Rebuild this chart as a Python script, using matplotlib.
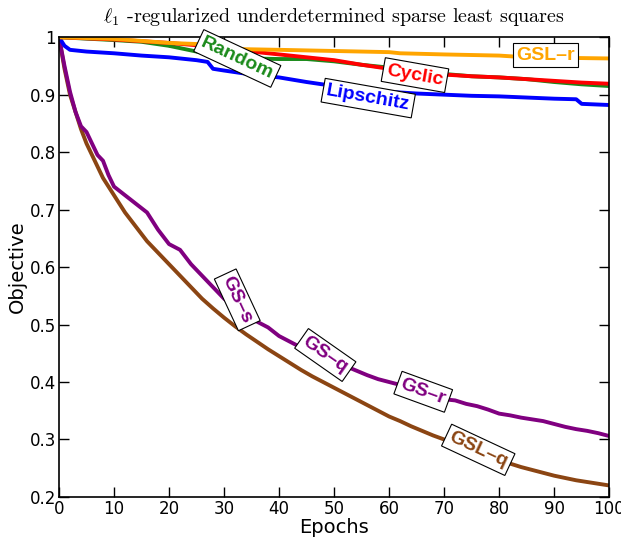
import matplotlib
matplotlib.use("Agg")
import matplotlib.pyplot as plt

plt.rcParams['mathtext.fontset'] = 'cm'

# ---- data ----
x_gsq = [0,1,2,3,4,5,6,7,8,9,10,12,14,16,18,20,22,24,26,28,30,32,34,36,38,40,42,44,46,48,50,
         52,54,56,58,60,62,64,66,68,70,72,74,76,78,80,82,84,86,88,90,92,94,96,98,100]
y_gs = [1.0,0.95,0.905,0.87,0.845,0.835,0.815,0.795,0.785,0.76,0.74,0.725,0.71,0.695,0.665,0.64,
        0.63,0.605,0.585,0.565,0.545,0.53,0.515,0.505,0.495,0.48,0.47,0.46,0.45,0.44,0.435,
        0.428,0.42,0.412,0.405,0.4,0.395,0.39,0.385,0.378,0.37,0.368,0.362,0.358,0.352,0.345,
        0.342,0.338,0.335,0.332,0.327,0.322,0.318,0.315,0.311,0.306]
y_gslq = [1.0,0.945,0.9,0.87,0.84,0.815,0.795,0.775,0.755,0.74,0.725,0.695,0.67,0.645,0.625,0.605,
          0.585,0.565,0.545,0.528,0.512,0.497,0.483,0.47,0.457,0.445,0.433,0.421,0.41,0.4,0.39,
          0.38,0.37,0.36,0.35,0.34,0.332,0.323,0.315,0.307,0.3,0.292,0.285,0.278,0.271,0.264,
          0.258,0.252,0.247,0.242,0.237,0.233,0.229,0.226,0.223,0.22]

x_gslr = [0,10,20,28,29,40,50,60,62,70,80,85,100]
y_gslr = [1.0,0.997,0.99,0.987,0.98,0.978,0.976,0.974,0.972,0.970,0.968,0.965,0.963]

x_cyc = [0,10,20,30,35,40,45,50,55,60,65,70,75,80,85,90,95,100]
y_cyc = [1.0,0.996,0.99,0.982,0.975,0.97,0.965,0.96,0.952,0.945,0.94,0.935,0.932,0.93,0.927,0.924,0.921,0.919]

x_rnd = [0,10,15,20,25,30,35,40,45,50,55,60,65,70,75,80,85,90,95,100]
y_rnd = [1.0,0.995,0.992,0.985,0.975,0.967,0.963,0.962,0.962,0.958,0.952,0.947,0.942,0.936,0.932,0.93,0.927,0.922,0.918,0.915]

x_lip = [0,1,2,5,10,15,20,25,27,28,30,35,40,45,50,55,60,65,70,75,80,85,90,94,95,100]
y_lip = [1.0,0.985,0.978,0.975,0.972,0.968,0.965,0.96,0.957,0.945,0.942,0.935,0.93,0.922,0.915,0.91,
         0.905,0.902,0.9,0.898,0.897,0.895,0.893,0.892,0.884,0.882]

labels = ["Random", "Cyclic", "Lipschitz", "GSL\u2013r", "GS\u2013s", "GS\u2013q", "GS\u2013r", "GSL\u2013q"]
label_x = [32.4, 64.7, 56.2, 88.4, 32.4, 48.4, 66.2, 76.2]
label_y = [0.963, 0.934, 0.894, 0.969, 0.543, 0.447, 0.383, 0.282]
label_rot = [-25, -10, -10, 0, -65, -35, -20, -25]

c_green = '#1a8a1a'
c_red = '#ff0000'
c_blue = '#0000ff'
c_orange = '#ffa500'
c_purple = '#800080'
c_brown = '#8b4513'
label_colors = [c_green, c_red, c_blue, c_orange, c_purple, c_purple, c_purple, c_brown]

fig = plt.figure(figsize=(6.21, 5.39), dpi=100)
ax = fig.add_axes([0.095, 0.078, 0.886, 0.853])

lw = 2.8
ax.plot(x_gsq, y_gslq, color=c_brown, lw=lw)
ax.plot(x_gsq, y_gs, color=c_purple, lw=lw)
ax.plot(x_lip, y_lip, color=c_blue, lw=lw)
ax.plot(x_rnd, y_rnd, color=c_green, lw=lw)
ax.plot(x_cyc, y_cyc, color=c_red, lw=lw)
ax.plot(x_gslr, y_gslr, color=c_orange, lw=lw)

for t, lx, ly, r, c in zip(labels, label_x, label_y, label_rot, label_colors):
    ax.text(lx, ly, t, color=c, rotation=r, ha='center', va='center', fontsize=14,
            fontweight='bold', family='Liberation Sans', rotation_mode='anchor',
            bbox=dict(boxstyle='square,pad=0.18', fc='white', ec='black', lw=0.8))

ax.set_xlim(0, 100)
ax.set_ylim(0.2, 1.0)
ax.set_xticks(range(0, 101, 10))
ax.set_yticks([0.2, 0.3, 0.4, 0.5, 0.6, 0.7, 0.8, 0.9, 1.0])
ax.set_yticklabels(['0.2', '0.3', '0.4', '0.5', '0.6', '0.7', '0.8', '0.9', '1'])
ax.tick_params(direction='in', top=True, right=True, length=7, width=1, labelsize=12, pad=2)
for s in ax.spines.values():
    s.set_linewidth(1.2)
ax.set_xlabel('Epochs', fontsize=14, labelpad=0)
ax.set_ylabel('Objective', fontsize=14, labelpad=2)
ax.set_title(r'$\ell_1$ -regularized underdetermined sparse least squares', fontsize=14.5, pad=11,
             family='cmr10')

fig.savefig('out.png', dpi=100)
